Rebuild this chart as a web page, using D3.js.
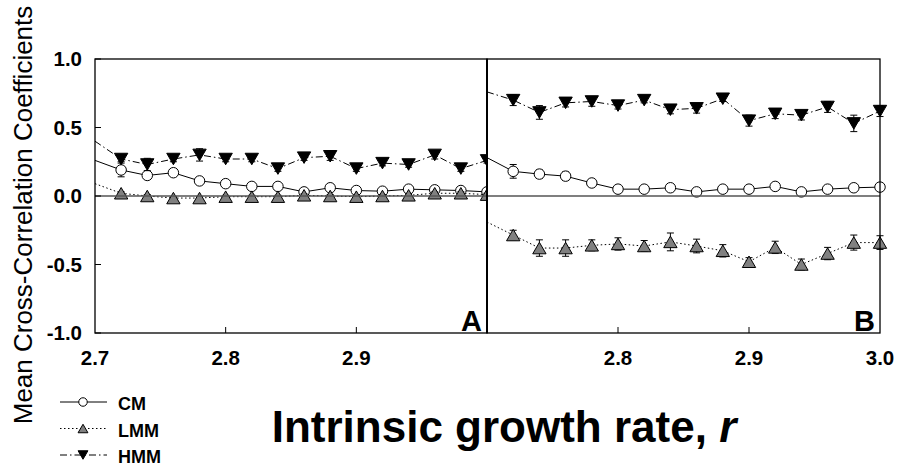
<!DOCTYPE html>
<html>
<head>
<meta charset="utf-8">
<script src="https://cdn.jsdelivr.net/npm/d3@7"></script>
<style>
  body { margin: 0; background: #fff; }
  text { font-family: "Liberation Sans", Arial, sans-serif; }
</style>
</head>
<body>
<script>
const width = 898;
const height = 466;

// growth rate r; the 2.70 point only carries the line, no marker
const rValues = [2.70, 2.72, 2.74, 2.76, 2.78, 2.80, 2.82, 2.84, 2.86, 2.88, 2.90, 2.92, 2.94, 2.96, 2.98, 3.00];

// panel A
const cmA  = [0.26, 0.19, 0.15, 0.17, 0.11, 0.09, 0.07, 0.07, 0.03, 0.06, 0.04, 0.035, 0.05, 0.045, 0.04, 0.03];
const cmAerr = [0, 0.05, 0.015, 0.01, 0.01, 0.01, 0.01, 0.01, 0.01, 0.01, 0.01, 0.01, 0.01, 0.01, 0.01, 0.01];
const lmmA = [0.09, 0.02, 0.0, -0.015, -0.015, -0.005, -0.005, -0.005, 0.005, 0.0, -0.005, 0.0, 0.005, 0.02, 0.02, 0.01];
const lmmAerr = [0, 0.01, 0.01, 0.01, 0.01, 0.01, 0.01, 0.01, 0.01, 0.01, 0.01, 0.01, 0.01, 0.01, 0.01, 0.01];
const hmmA = [0.40, 0.27, 0.23, 0.27, 0.30, 0.27, 0.27, 0.20, 0.28, 0.29, 0.20, 0.24, 0.23, 0.30, 0.20, 0.26];
const hmmAerr = [0, 0.02, 0.045, 0.02, 0.045, 0.02, 0.02, 0.02, 0.02, 0.03, 0.02, 0.02, 0.02, 0.03, 0.02, 0.02];

// panel B
const cmB  = [0.28, 0.18, 0.16, 0.145, 0.095, 0.05, 0.05, 0.06, 0.03, 0.05, 0.05, 0.07, 0.03, 0.05, 0.06, 0.065];
const cmBerr = [0, 0.05, 0.03, 0.03, 0.025, 0.01, 0.01, 0.015, 0.01, 0.01, 0.01, 0.015, 0.01, 0.01, 0.01, 0.015];
const lmmB = [-0.19, -0.285, -0.38, -0.38, -0.36, -0.35, -0.365, -0.335, -0.365, -0.40, -0.48, -0.375, -0.50, -0.42, -0.34, -0.34];
const lmmBerr = [0, 0.035, 0.06, 0.06, 0.04, 0.045, 0.04, 0.065, 0.05, 0.045, 0.03, 0.045, 0.04, 0.045, 0.055, 0.05];
const hmmB = [0.76, 0.70, 0.61, 0.68, 0.69, 0.66, 0.70, 0.63, 0.64, 0.71, 0.55, 0.60, 0.59, 0.65, 0.53, 0.62];
const hmmBerr = [0, 0.04, 0.05, 0.03, 0.035, 0.025, 0.02, 0.03, 0.035, 0.02, 0.04, 0.035, 0.035, 0.04, 0.06, 0.04];

const yTicks = [-1.0, -0.5, 0.0, 0.5, 1.0];
const xTicksA = [2.7, 2.8, 2.9];
const xTicksB = [2.8, 2.9, 3.0];
const seriesNames = ["CM", "LMM", "HMM"];

const plotTop = 59, plotBottom = 333;
const y = d3.scaleLinear().domain([-1, 1]).range([plotBottom, plotTop]);
const xA = d3.scaleLinear().domain([2.7, 3.0]).range([95, 487]);
const xB = d3.scaleLinear().domain([2.7, 3.0]).range([487, 880]);

const styles = {
    CM:  {dash: null, marker: "circle", fill: "#fff"},
    LMM: {dash: "1.5,2.5", marker: "up", fill: "#808080"},
    HMM: {dash: "7,3,1.5,3", marker: "down", fill: "#000"}
};

let svg = d3.select("body").append("svg")
    .attr("width", width)
    .attr("height", height);

svg.append("defs").append("clipPath")
    .attr("id", "clipA")
    .append("rect")
    .attr("x", 95).attr("y", 0).attr("width", 392).attr("height", height);

function markerPath(type, s) {
    if (type === "up") return "M0," + (-s * 0.5) + "L" + (s * 0.58) + "," + (s * 0.5) + "L" + (-s * 0.58) + "," + (s * 0.5) + "Z";
    if (type === "down") return "M0," + (s * 0.5) + "L" + (s * 0.58) + "," + (-s * 0.5) + "L" + (-s * 0.58) + "," + (-s * 0.5) + "Z";
    return d3.arc()({innerRadius: 0, outerRadius: s / 2, startAngle: 0, endAngle: 2 * Math.PI});
}

function drawMarker(g, type, fill, cx, cy, s) {
    g.append("path")
        .attr("d", markerPath(type, s))
        .attr("transform", "translate(" + cx + "," + cy + ")")
        .attr("fill", fill)
        .attr("stroke", "#000")
        .attr("stroke-width", 1);
}

function drawPanel(x, series, clipId, xTicks, label) {
    let g = svg.append("g");
    if (clipId) g.attr("clip-path", "url(#" + clipId + ")");

    // zero line
    svg.append("line")
        .attr("x1", x.range()[0]).attr("x2", x.range()[1])
        .attr("y1", y(0)).attr("y2", y(0))
        .attr("stroke", "#555").attr("stroke-width", 1.5);

    let line = d3.line().x((d) => x(d.r)).y((d) => y(d.v));

    series.forEach((s) => {
        let st = styles[s.name];
        let pts = rValues.map((r, i) => ({r: r, v: s.values[i], e: s.err[i]}));
        g.append("path")
            .datum(pts)
            .attr("d", line)
            .attr("fill", "none")
            .attr("stroke", "#000")
            .attr("stroke-width", 1)
            .attr("stroke-dasharray", st.dash);
    });

    series.forEach((s) => {
        let st = styles[s.name];
        let pts = rValues.map((r, i) => ({r: r, v: s.values[i], e: s.err[i]})).slice(1);
        pts.forEach((d) => {
            let cx = x(d.r);
            g.append("path")
                .attr("d", "M" + cx + "," + y(d.v - d.e) + "V" + y(d.v + d.e) +
                    "M" + (cx - 3.5) + "," + y(d.v - d.e) + "h7" +
                    "M" + (cx - 3.5) + "," + y(d.v + d.e) + "h7")
                .attr("stroke", "#000")
                .attr("stroke-width", 1)
                .attr("fill", "none");
            drawMarker(g, st.marker, st.fill, cx, y(d.v), st.marker === "circle" ? 10.5 : 11.5);
        });
    });

    // frame
    let x0 = x.range()[0], x1 = x.range()[1];
    svg.append("rect")
        .attr("x", x0).attr("y", plotTop)
        .attr("width", x1 - x0).attr("height", plotBottom - plotTop)
        .attr("fill", "none").attr("stroke", "#000").attr("stroke-width", 1.3);

    // inward x ticks
    svg.append("g").selectAll("line")
        .data([2.8, 2.9])
        .enter().append("line")
        .attr("x1", (d) => x(d)).attr("x2", (d) => x(d))
        .attr("y1", plotBottom).attr("y2", plotBottom - 6)
        .attr("stroke", "#000").attr("stroke-width", 1);

    svg.append("g")
        .attr("font-size", 20.5)
        .attr("font-weight", "bold")
        .attr("text-anchor", "middle")
        .selectAll("text")
        .data(xTicks)
        .enter().append("text")
        .attr("x", (d) => x(d))
        .attr("y", 365)
        .text((d) => d.toFixed(1));

    svg.append("text")
        .attr("x", x1 - 5)
        .attr("y", plotBottom - 2)
        .attr("text-anchor", "end")
        .attr("font-size", 29)
        .attr("font-weight", "bold")
        .text(label);
}

drawPanel(xA, [
    {name: "CM", values: cmA, err: cmAerr},
    {name: "LMM", values: lmmA, err: lmmAerr},
    {name: "HMM", values: hmmA, err: hmmAerr}
], "clipA", xTicksA, "A");

drawPanel(xB, [
    {name: "CM", values: cmB, err: cmBerr},
    {name: "LMM", values: lmmB, err: lmmBerr},
    {name: "HMM", values: hmmB, err: hmmBerr}
], null, xTicksB, "B");

// divider
svg.append("line")
    .attr("x1", 487).attr("x2", 487).attr("y1", plotTop).attr("y2", plotBottom)
    .attr("stroke", "#000").attr("stroke-width", 2);

// y axis ticks and labels
let yAxis = svg.append("g");
yAxis.selectAll("line")
    .data(yTicks)
    .enter().append("line")
    .attr("x1", 95).attr("x2", 101)
    .attr("y1", (d) => y(d)).attr("y2", (d) => y(d))
    .attr("stroke", "#000");
yAxis.selectAll("text")
    .data(yTicks)
    .enter().append("text")
    .attr("x", 82)
    .attr("y", (d) => y(d) + 7)
    .attr("text-anchor", "end")
    .attr("font-size", 20.5)
    .attr("font-weight", "bold")
    .text((d) => d.toFixed(1));

// axis titles
svg.append("text")
    .attr("transform", "translate(32,215) rotate(-90)")
    .attr("text-anchor", "middle")
    .attr("font-size", 26)
    .text("Mean Cross-Correlation Coefficients");

let xt = svg.append("text")
    .attr("x", 504)
    .attr("y", 442)
    .attr("text-anchor", "middle")
    .attr("font-size", 44)
    .attr("font-weight", "bold");
xt.append("tspan").text("Intrinsic growth rate, ");
xt.append("tspan").attr("font-style", "italic").text("r");

// legend
let legend = svg.append("g");
seriesNames.forEach((name, i) => {
    let st = styles[name];
    let ly = 402 + i * 26.5;
    legend.append("line")
        .attr("x1", 60).attr("x2", 107)
        .attr("y1", ly).attr("y2", ly)
        .attr("stroke", "#000").attr("stroke-width", 1)
        .attr("stroke-dasharray", st.dash);
    drawMarker(legend, st.marker, st.fill, 83, ly, 8.5);
    legend.append("text")
        .attr("x", 118)
        .attr("y", ly + 8)
        .attr("font-size", 18)
        .attr("font-weight", "bold")
        .text(name);
});
</script>
</body>
</html>
